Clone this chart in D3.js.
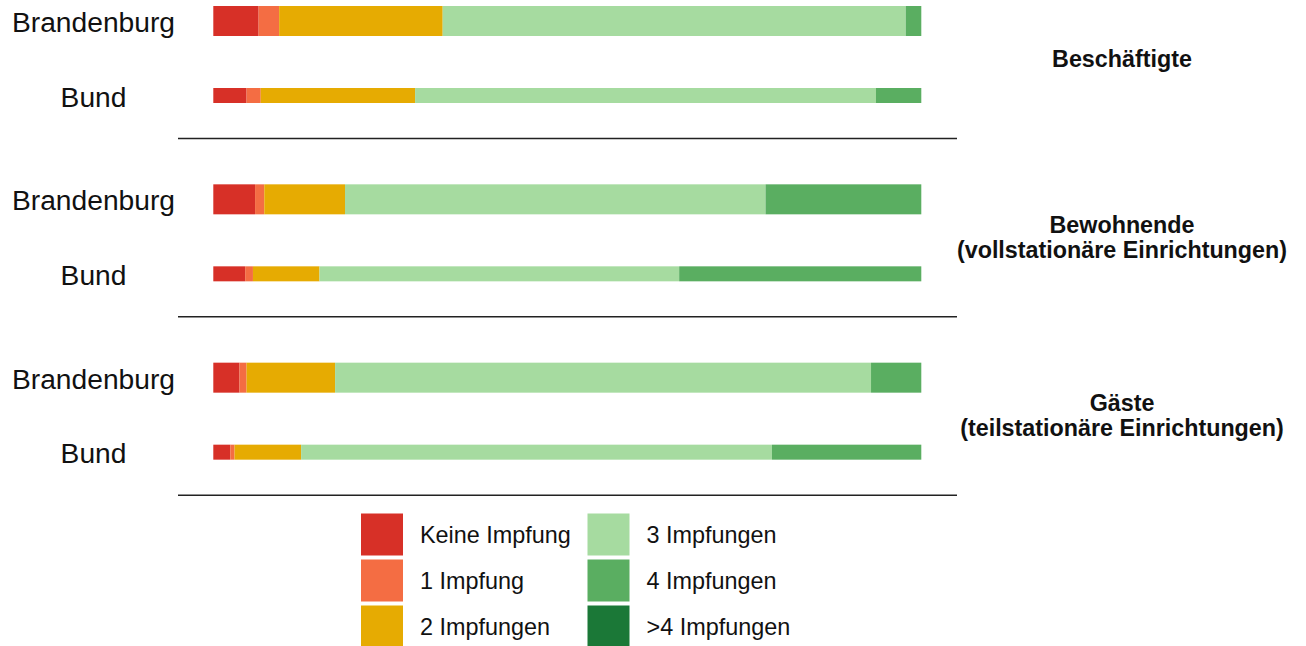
<!DOCTYPE html>
<html lang="de">
<head>
<meta charset="UTF-8">
<title>Impfstatus Pflegeeinrichtungen</title>
<script src="https://d3js.org/d3.v7.min.js"></script>
<style>
  body { margin: 0; background: #fff; font-family: "Liberation Sans", Arial, sans-serif; }
  svg text { fill: #111; }
</style>
</head>
<body>
<script>
// Kategorien (Impfstatus) und Farben
const categories = ["Keine Impfung", "1 Impfung", "2 Impfungen", "3 Impfungen", "4 Impfungen", ">4 Impfungen"];
const colors = ["#d73027", "#f46d43", "#e6ab02", "#a6dba0", "#5aae61", "#1b7837"];

// Gruppen und Regionen
const groups = ["Beschäftigte", "Bewohnende\n(vollstationäre Einrichtungen)", "Gäste\n(teilstationäre Einrichtungen)"];
const regions = ["Brandenburg", "Bund"];

// Anteile in Prozent (Reihenfolge wie categories)
const beschBrandenburg = [6.4, 2.9, 23.1, 65.4, 2.2, 0];
const beschBund        = [4.7, 2.0, 21.8, 65.1, 6.4, 0];
const bewBrandenburg   = [5.9, 1.3, 11.4, 59.4, 22.0, 0];
const bewBund          = [4.5, 1.1, 9.4, 50.8, 34.2, 0];
const gaesteBrandenburg = [3.7, 1.0, 12.5, 75.7, 7.1, 0];
const gaesteBund        = [2.4, 0.6, 9.4, 66.5, 21.1, 0];

const values = [
  [beschBrandenburg, beschBund],
  [bewBrandenburg, bewBund],
  [gaesteBrandenburg, gaesteBund]
];

const width = 1306, height = 646;
const svg = d3.select("body").append("svg")
  .attr("width", width)
  .attr("height", height);

const x = d3.scaleLinear().domain([0, 100]).range([213.3, 921.3]);
const gy = d3.scaleBand().domain(d3.range(groups.length)).range([0, 535]);
const barTop = { "Brandenburg": 6, "Bund": 88 };
const barH = { "Brandenburg": 30, "Bund": 15 };
const color = d3.scaleOrdinal().domain(categories).range(colors);

groups.forEach((gname, gi) => {
  const g = svg.append("g").attr("transform", `translate(0,${gy(gi)})`);

  regions.forEach((r, ri) => {
    const vals = values[gi][ri];
    let acc = 0;
    const segs = vals.map((v, k) => {
      const s = { cat: categories[k], x0: acc, x1: acc + v };
      acc += v;
      return s;
    }).filter(s => s.x1 > s.x0);

    g.append("g").selectAll("rect")
      .data(segs)
      .join("rect")
      .attr("x", d => x(d.x0))
      .attr("width", d => x(d.x1) - x(d.x0))
      .attr("y", barTop[r])
      .attr("height", barH[r])
      .attr("fill", d => color(d.cat));

    g.append("text")
      .attr("x", 93.5)
      .attr("y", barTop[r] + barH[r] / 2 + 11)
      .attr("text-anchor", "middle")
      .style("font-size", "28.2px")
      .text(r);
  });

  // Gruppentitel rechts
  const center = (barTop.Brandenburg + barH.Brandenburg / 2 + barTop.Bund + barH.Bund / 2) / 2;
  const lines = gname.split("\n");
  const lh = 25;
  g.append("text")
    .attr("text-anchor", "middle")
    .style("font-size", "23.3px")
    .style("font-weight", "bold")
    .selectAll("tspan")
    .data(lines)
    .join("tspan")
    .attr("x", 1122)
    .attr("y", (d, i) => center + 8.5 - (lines.length - 1) * lh / 2 + i * lh)
    .text(d => d);

  // Trennlinie
  g.append("line")
    .attr("x1", 178).attr("x2", 957)
    .attr("y1", 138.5).attr("y2", 138.5)
    .attr("stroke", "#222")
    .attr("stroke-width", 1.5);
});

// Legende
const legend = svg.append("g");
const legendItems = legend.selectAll("g")
  .data(categories)
  .join("g")
  .attr("transform", (d, i) => `translate(${i < 3 ? 361 : 587.5},${513.5 + (i % 3) * 46})`);

legendItems.append("rect")
  .attr("width", 42)
  .attr("height", 42)
  .attr("fill", d => color(d));

legendItems.append("text")
  .attr("x", 59)
  .attr("y", 21)
  .attr("dy", "0.35em")
  .style("font-size", "23.4px")
  .text(d => d);
</script>
</body>
</html>
